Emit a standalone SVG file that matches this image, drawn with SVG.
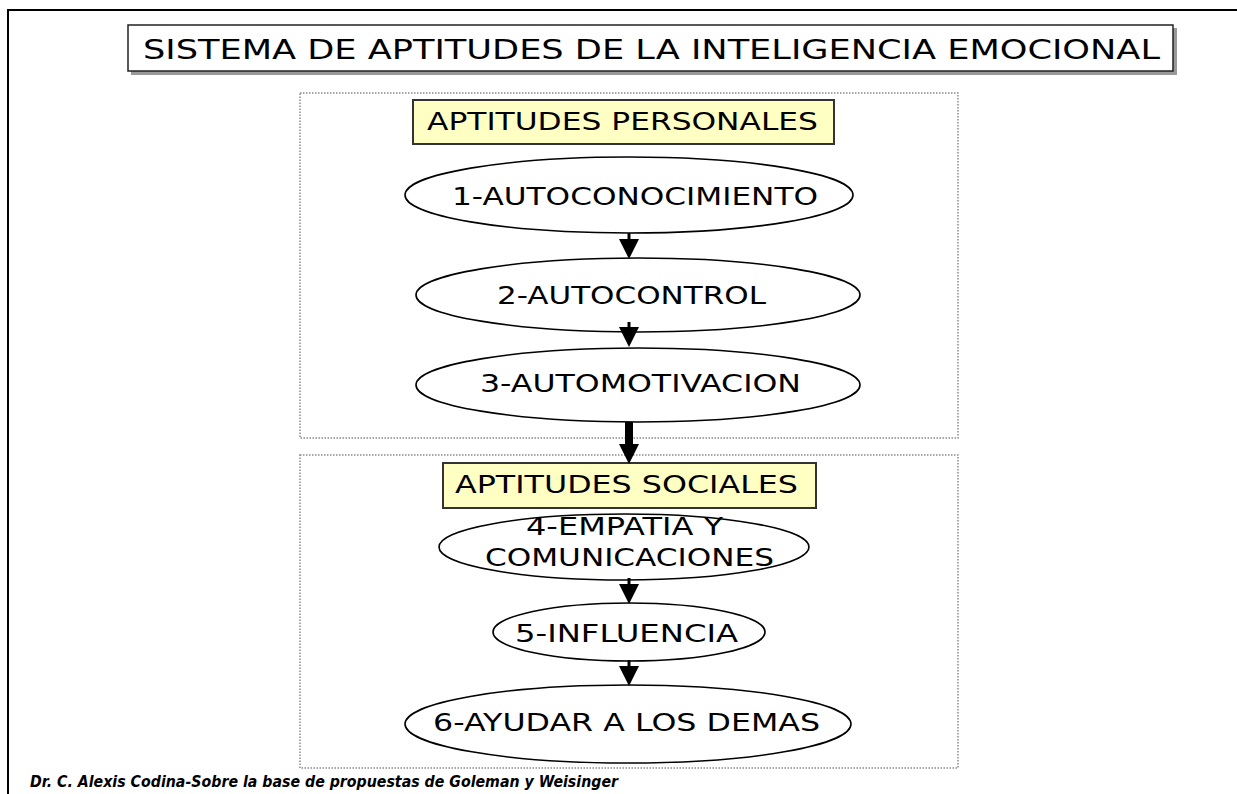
<svg xmlns="http://www.w3.org/2000/svg" width="1237" height="794" viewBox="0 0 1237 794">
<style>
.t{font-family:"DejaVu Sans","Liberation Sans",sans-serif;fill:#000;text-anchor:start}
.big{font-size:25px}
.ttl{font-size:27px}
.el{fill:#fff;stroke:#000;stroke-width:1.6}
.hdr{fill:#ffffc4;stroke:#333;stroke-width:2}
.grp{fill:none;stroke:#8a8a8a;stroke-width:1.5;stroke-dasharray:1.5 1.5}
.shaft{stroke:#000;stroke-width:3;fill:none}
.foot{font-family:"DejaVu Sans","Liberation Sans",sans-serif;font-size:15px;font-weight:bold;font-style:italic}
</style>
<defs>
<marker id="ah" markerUnits="userSpaceOnUse" viewBox="0 0 20 20" refX="0" refY="10" markerWidth="20" markerHeight="20" orient="auto">
<path d="M0,0 L20,10 L0,20 z" fill="#000"/>
</marker>
</defs>
<rect width="1237" height="794" fill="#fff"/>
<g id="frame">
<path d="M8,794 V10 H1237" fill="none" stroke="#000" stroke-width="2"/>
</g>
<g id="title">
<rect x="131" y="28" width="1046" height="47" fill="#999"/>
<rect x="128" y="25" width="1045" height="46" fill="#fff" stroke="#222" stroke-width="1.5"/>
<text class="t ttl" x="143" y="59" textLength="1017" lengthAdjust="spacingAndGlyphs">SISTEMA DE APTITUDES DE LA INTELIGENCIA EMOCIONAL</text>
</g>
<g id="personales">
<rect class="grp" x="300" y="93" width="658" height="345"/>
<rect class="hdr" x="413" y="100" width="421" height="44"/>
<text class="t big" x="427" y="130" textLength="391" lengthAdjust="spacingAndGlyphs">APTITUDES PERSONALES</text>
</g>
<g id="n1">
<ellipse class="el" cx="629" cy="195" rx="224" ry="38"/>
<text class="t big" x="452" y="205" textLength="366" lengthAdjust="spacingAndGlyphs">1-AUTOCONOCIMIENTO</text>
</g>
<g id="n2">
<ellipse class="el" cx="638" cy="295" rx="222" ry="37"/>
<text class="t big" x="497" y="304" textLength="269" lengthAdjust="spacingAndGlyphs">2-AUTOCONTROL</text>
</g>
<g id="n3">
<ellipse class="el" cx="638" cy="385" rx="222" ry="37"/>
<text class="t big" x="480" y="392" textLength="321" lengthAdjust="spacingAndGlyphs">3-AUTOMOTIVACION</text>
</g>
<g id="sociales">
<rect class="grp" x="300" y="455" width="658" height="313"/>
<rect class="hdr" x="443" y="463" width="373" height="45"/>
<text class="t big" x="455" y="493" textLength="343" lengthAdjust="spacingAndGlyphs">APTITUDES SOCIALES</text>
</g>
<g id="n4">
<ellipse class="el" cx="624" cy="547" rx="185" ry="33"/>
<text class="t big" x="526" y="535" textLength="197" lengthAdjust="spacingAndGlyphs">4-EMPATIA Y</text>
<text class="t big" x="485" y="566" textLength="289" lengthAdjust="spacingAndGlyphs">COMUNICACIONES</text>
</g>
<g id="n5">
<ellipse class="el" cx="629" cy="632" rx="136" ry="29"/>
<text class="t big" x="515" y="642" textLength="223" lengthAdjust="spacingAndGlyphs">5-INFLUENCIA</text>
</g>
<g id="n6">
<ellipse class="el" cx="628" cy="724" rx="223" ry="39"/>
<text class="t big" x="433" y="731" textLength="387" lengthAdjust="spacingAndGlyphs">6-AYUDAR A LOS DEMAS</text>
</g>
<g id="connectors">
<path class="shaft" d="M629,233 V239" marker-end="url(#ah)"/>
<path class="shaft" d="M629,322 V327" marker-end="url(#ah)"/>
<path d="M629,422 V444" stroke="#000" stroke-width="8" fill="none" marker-end="url(#ah)"/>
<path class="shaft" d="M629,578 V584" marker-end="url(#ah)"/>
<path class="shaft" d="M629,660 V666" marker-end="url(#ah)"/>
</g>
<g id="footer">
<text class="foot" x="30" y="787" textLength="588" lengthAdjust="spacingAndGlyphs">Dr. C. Alexis Codina-Sobre la base de propuestas de Goleman y Weisinger</text>
</g>
</svg>
